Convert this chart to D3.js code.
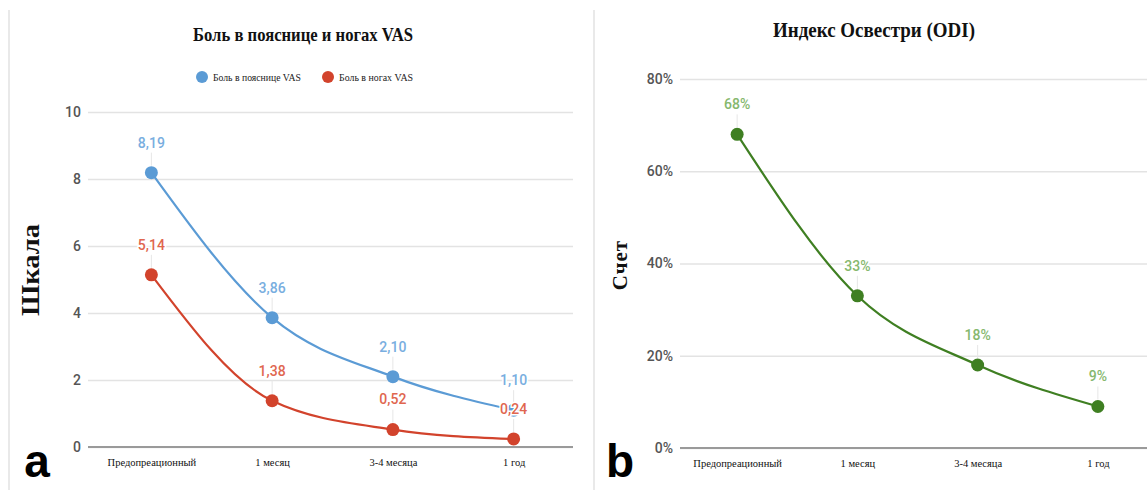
<!DOCTYPE html>
<html><head><meta charset="utf-8">
<script src="https://cdn.jsdelivr.net/npm/d3@7"></script>
<style>
html,body{margin:0;padding:0;background:#fff;}
svg{display:block;}
</style></head>
<body>
<svg id="chart" width="1147" height="490"></svg>
<script>
const categories = ["Предопреационный", "1 месяц", "3-4 месяца", "1 год"];
const backPain = [8.19, 3.86, 2.10, 1.10];
const legPain = [5.14, 1.38, 0.52, 0.24];
const vasTicks = [0, 2, 4, 6, 8, 10];
const odiValues = [68, 33, 18, 9];
const odiTicks = [0, 20, 40, 60, 80];
const titleA = "Боль в пояснице и ногах VAS";
const titleB = "Индекс Освестри (ODI)";
const seriesNames = ["Боль в пояснице VAS", "Боль в ногах VAS"];

const svg = d3.select("#chart");
const serif = "Liberation Serif";
const sans = "Roboto";

svg.append("line").attr("x1",9).attr("x2",9).attr("y1",10).attr("y2",490).attr("stroke","#e2e2e2").attr("stroke-width",1.5);
svg.append("line").attr("x1",594).attr("x2",594).attr("y1",10).attr("y2",490).attr("stroke","#e2e2e2").attr("stroke-width",1.5);

function drawPanel(cfg){
  const g = svg.append("g");
  const x = d3.scalePoint().domain(categories).range(cfg.xRange).padding(0.5);
  const y = d3.scaleLinear().domain(cfg.yDomain).range(cfg.yRange);
  const ax = d3.axisLeft(y).tickValues(cfg.ticks).tickSize(-(cfg.gridRight-cfg.gridLeft)).tickPadding(7).tickFormat(cfg.tickFmt);
  const ag = g.append("g").attr("transform",`translate(${cfg.gridLeft},0)`).call(ax);
  ag.select(".domain").remove();
  ag.selectAll(".tick line").attr("stroke","#e3e3e3").attr("stroke-width",1.5);
  ag.selectAll(".tick text").attr("fill","#555").attr("font-family",sans).attr("font-weight",500).attr("font-size",14);
  g.append("line").attr("x1",cfg.gridLeft).attr("x2",cfg.gridRight).attr("y1",y(0)).attr("y2",y(0)).attr("stroke","#9a9a9a").attr("stroke-width",1.8);
  const xa = d3.axisBottom(x).tickSize(0).tickPadding(12);
  const xg = g.append("g").attr("transform",`translate(0,${y(0)})`).call(xa);
  xg.select(".domain").remove();
  xg.selectAll(".tick text").attr("fill","#111").attr("font-family",serif).attr("font-size",10.5);
  cfg.series.forEach(s=>{
    const line = d3.line().x((d,i)=>x(categories[i])).y(d=>y(d)).curve(d3.curveMonotoneX);
    g.append("path").datum(s.values).attr("d",line).attr("fill","none").attr("stroke",s.color).attr("stroke-width",2.2);
  });
  cfg.series.forEach(s=>{
    g.selectAll(null).data(s.values).enter().append("circle")
      .attr("cx",(d,i)=>x(categories[i])).attr("cy",d=>y(d)).attr("r",6.5).attr("fill",s.color);
  });
  cfg.series.forEach(s=>{
    const lg = g.selectAll(null).data(s.values).enter().append("g");
    lg.append("line").attr("x1",(d,i)=>x(categories[i])).attr("x2",(d,i)=>x(categories[i]))
      .attr("y1",d=>y(d)-20).attr("y2",d=>y(d)-7).attr("stroke","#e6e6e6").attr("stroke-width",1);
    lg.append("text").attr("x",(d,i)=>x(categories[i])).attr("y",d=>y(d)-30).attr("dy","0.35em")
      .attr("text-anchor","middle").attr("font-family",sans).attr("font-weight",500).attr("font-size",14)
      .attr("fill",s.labelColor).attr("stroke","#fff").attr("stroke-width",3).attr("paint-order","stroke")
      .text(d=>cfg.labelFmt(d));
  });
  return {x,y};
}

drawPanel({
  xRange:[91,574], gridLeft:88, gridRight:573,
  yDomain:[0,10], yRange:[447,112], ticks:vasTicks, tickFmt:d3.format("d"),
  labelFmt:d=>d3.format(".2f")(d).replace(".",","),
  series:[
    {values:backPain, color:"#5b9bd5", labelColor:"#79aee0"},
    {values:legPain, color:"#d2432c", labelColor:"#e0664f"}
  ]
});
drawPanel({
  xRange:[677,1158], gridLeft:680, gridRight:1147,
  yDomain:[0,80], yRange:[448,79], ticks:odiTicks, tickFmt:d=>d+"%",
  labelFmt:d=>d3.format("d")(d)+"%",
  series:[
    {values:odiValues, color:"#3f7f22", labelColor:"#86b86e"}
  ]
});

svg.append("text").attr("x",303).attr("y",41).attr("text-anchor","middle").attr("font-family",serif)
  .attr("font-weight","bold").attr("font-size",19).attr("textLength",220).attr("lengthAdjust","spacingAndGlyphs")
  .attr("fill","#111").text(titleA);
svg.append("text").attr("x",874).attr("y",37).attr("text-anchor","middle").attr("font-family",serif)
  .attr("font-weight","bold").attr("font-size",22).attr("textLength",202).attr("lengthAdjust","spacingAndGlyphs")
  .attr("fill","#111").text(titleB);

const legendColors = ["#5b9bd5","#d2432c"];
const legendX = [202, 328];
seriesNames.forEach((n,i)=>{
  svg.append("circle").attr("cx",legendX[i]).attr("cy",77).attr("r",6).attr("fill",legendColors[i]);
  svg.append("text").attr("x",legendX[i]+11).attr("y",77).attr("dy","0.35em").attr("font-family",serif)
    .attr("font-size",10.5).attr("textLength",n.length>17?88:74).attr("lengthAdjust","spacingAndGlyphs")
    .attr("fill","#222").text(n);
});

svg.append("text").attr("transform","translate(39,270) rotate(-90)").attr("text-anchor","middle")
  .attr("font-family",serif).attr("font-weight","bold").attr("font-size",25)
  .attr("textLength",92).attr("lengthAdjust","spacingAndGlyphs").attr("fill","#111").text("Шкала");
svg.append("text").attr("transform","translate(627,265) rotate(-90)").attr("text-anchor","middle")
  .attr("font-family",serif).attr("font-weight","bold").attr("font-size",21).attr("letter-spacing",1).attr("fill","#111").text("Счет");

svg.append("text").attr("x",37).attr("y",477).attr("text-anchor","middle").attr("font-family","Liberation Sans")
  .attr("font-weight","bold").attr("font-size",46).attr("fill","#000").text("a");
svg.append("text").attr("x",620).attr("y",477).attr("text-anchor","middle").attr("font-family","Liberation Sans")
  .attr("font-weight","bold").attr("font-size",46).attr("fill","#000").text("b");
</script>
</body></html>
